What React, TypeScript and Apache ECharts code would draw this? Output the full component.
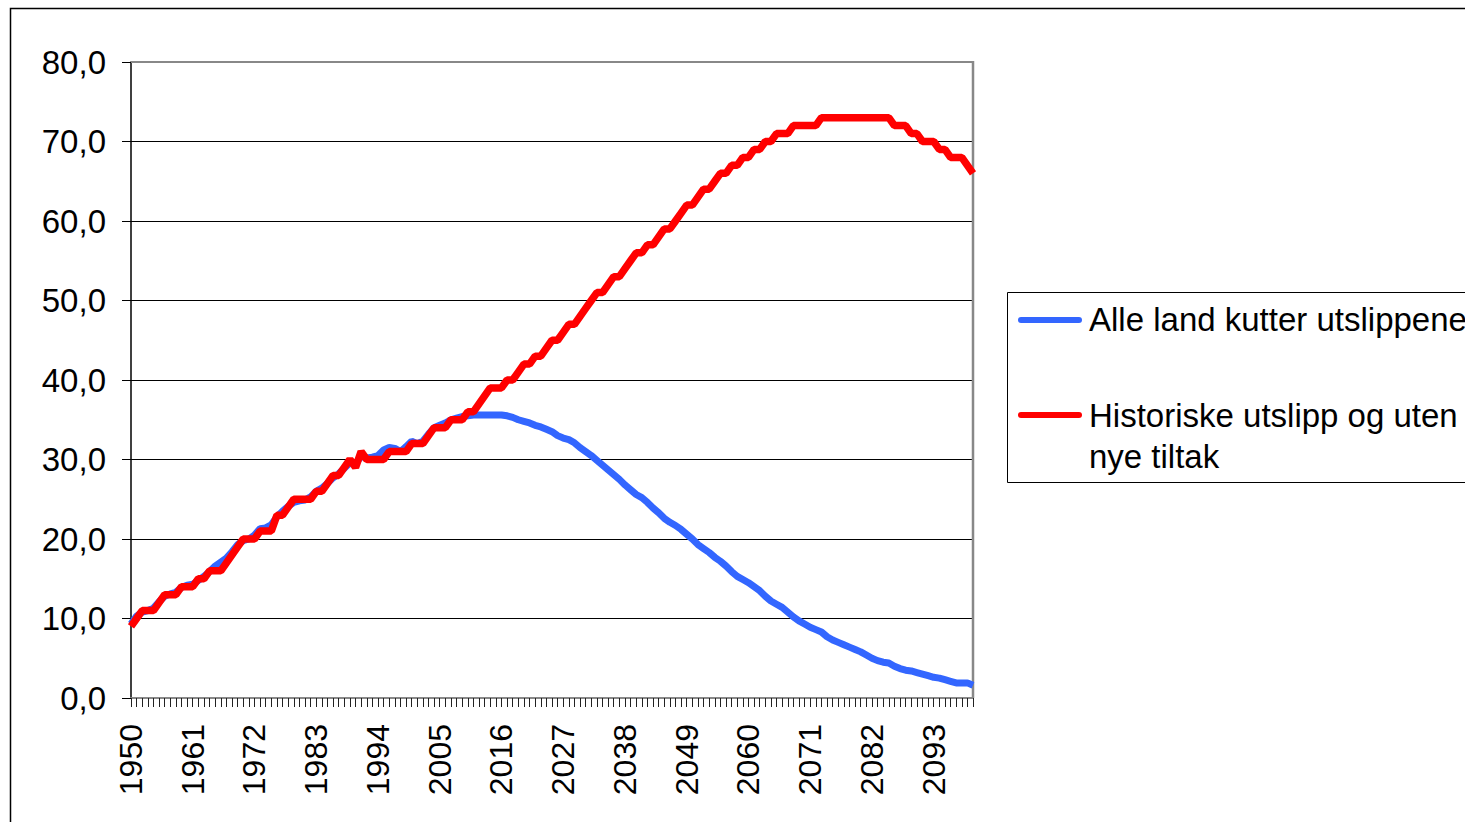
import React, { useEffect, useRef } from "react";
import * as echarts from "echarts";

const startYear = 1950;
const endYear = 2100;
const years: string[] = [];
for (let y = startYear; y <= endYear; y++) years.push(String(y));

const seriesNames = [
  "Alle land kutter utslippene",
  "Historiske utslipp og uten nye tiltak",
];

// Blue: all countries cut emissions
const allCut = [
  9.3, 10.3, 10.8, 11.0, 11.3, 12.1, 12.8, 13.1, 13.3, 13.9,
  14.2, 14.3, 14.8, 15.3, 15.9, 16.6, 17.1, 17.6, 18.4, 19.3,
  19.8, 20.0, 20.5, 21.3, 21.4, 21.8, 22.8, 23.5, 24.1, 24.6,
  24.8, 24.9, 25.3, 26.0, 26.4, 27.0, 27.7, 28.2, 28.9, 29.6,
  29.5, 30.4, 30.2, 30.3, 30.5, 31.2, 31.5, 31.4, 31.0, 31.6,
  32.3, 32.0, 32.3, 33.2, 34.0, 34.3, 34.6, 35.0, 35.2, 35.4,
  35.5, 35.6, 35.6, 35.6, 35.6, 35.6, 35.6, 35.5, 35.3, 35.0,
  34.8, 34.6, 34.3, 34.1, 33.8, 33.5, 33.0, 32.7, 32.5, 32.1,
  31.5, 31.0, 30.5, 29.9, 29.3, 28.7, 28.1, 27.5, 26.8, 26.2,
  25.6, 25.2, 24.6, 23.9, 23.3, 22.6, 22.1, 21.7, 21.2, 20.6,
  20.0, 19.3, 18.8, 18.3, 17.7, 17.2, 16.6, 15.9, 15.3, 14.9,
  14.5, 14.0, 13.5, 12.8, 12.2, 11.8, 11.4, 10.8, 10.2, 9.7,
  9.3, 8.9, 8.6, 8.3, 7.7, 7.3, 7.0, 6.7, 6.4, 6.1,
  5.8, 5.4, 5.0, 4.7, 4.5, 4.4, 4.0, 3.7, 3.5, 3.4,
  3.2, 3.0, 2.8, 2.6, 2.5, 2.3, 2.1, 1.9, 1.9, 1.9,
  1.6,
];

// Red: historical emissions and no new measures
const noAction = [
  9, 10, 11, 11, 11, 12, 13, 13, 13, 14,
  14, 14, 15, 15, 16, 16, 16, 17, 18, 19,
  20, 20, 20, 21, 21, 21, 23, 23, 24, 25,
  25, 25, 25, 26, 26, 27, 28, 28, 29, 30,
  29, 31, 30, 30, 30, 30, 31, 31, 31, 31,
  32, 32, 32, 33, 34, 34, 34, 35, 35, 35,
  36, 36, 37, 38, 39, 39, 39, 40, 40, 41,
  42, 42, 43, 43, 44, 45, 45, 46, 47, 47,
  48, 49, 50, 51, 51, 52, 53, 53, 54, 55,
  56, 56, 57, 57, 58, 59, 59, 60, 61, 62,
  62, 63, 64, 64, 65, 66, 66, 67, 67, 68,
  68, 69, 69, 70, 70, 71, 71, 71, 72, 72,
  72, 72, 72, 73, 73, 73, 73, 73, 73, 73,
  73, 73, 73, 73, 73, 73, 72, 72, 72, 71,
  71, 70, 70, 70, 69, 69, 68, 68, 68, 67,
  66,
];

const BLUE = "#3366ff";
const RED = "#ff0000";
const FONT = "'Liberation Sans', Arial, Helvetica, sans-serif";

export default function App() {
  const ref = useRef<HTMLDivElement>(null);

  useEffect(() => {
    if (!ref.current) return;
    const chart = echarts.init(ref.current, undefined, { renderer: "svg" });
    const option = {
      animation: false,
      backgroundColor: "#ffffff",
      textStyle: { fontFamily: FONT },
      grid: { left: 131, right: 492, top: 62, bottom: 124, show: false },
      xAxis: {
        type: "category",
        data: years,
        boundaryGap: false,
        axisLine: { show: true, lineStyle: { color: "#888888", width: 2 } },
        axisTick: {
          show: true,
          interval: 0,
          length: 9,
          lineStyle: { color: "#222222", width: 1 },
        },
        axisLabel: {
          interval: 10,
          rotate: 90,
          margin: 26,
          fontSize: 32,
          color: "#000000",
          fontFamily: FONT,
        },
        splitLine: { show: false },
      },
      yAxis: {
        type: "value",
        min: 0,
        max: 80,
        interval: 10,
        axisLine: { show: true, lineStyle: { color: "#000000", width: 1.5 } },
        axisTick: { show: true, length: 9, lineStyle: { color: "#000000" } },
        axisLabel: {
          margin: 25,
          fontSize: 33,
          color: "#000000",
          fontFamily: FONT,
          formatter: (v: number) => v.toFixed(1).replace(".", ","),
        },
        splitLine: {
          show: true,
          lineStyle: {
            color: ["#000", "#000", "#000", "#000", "#000", "#000", "#000", "#000", "#888"],
            width: 1,
          },
        },
      },
      series: [
        {
          name: seriesNames[0],
          type: "line",
          data: allCut,
          showSymbol: false,
          lineStyle: { color: BLUE, width: 7 },
          itemStyle: { color: BLUE },
          z: 2,
        },
        {
          name: seriesNames[1],
          type: "line",
          data: noAction,
          showSymbol: false,
          lineStyle: { color: RED, width: 7.5 },
          itemStyle: { color: RED },
          z: 3,
        },
      ],
      graphic: [
        {
          type: "rect",
          z: 0,
          silent: true,
          shape: { x: 10.5, y: 8.5, width: 1600, height: 1000 },
          style: { fill: "none", stroke: "#000000", lineWidth: 1.5 },
        },
        {
          type: "line",
          z: 1,
          shape: { x1: 131, y1: 62, x2: 973, y2: 62 },
          style: { stroke: "#888888", lineWidth: 2 },
        },
        {
          type: "line",
          z: 1,
          shape: { x1: 973, y1: 61, x2: 973, y2: 698 },
          style: { stroke: "#888888", lineWidth: 2.5 },
        },
        {
          type: "rect",
          z: 10,
          shape: { x: 1007.5, y: 292.5, width: 700, height: 190 },
          style: { fill: "#ffffff", stroke: "#000000", lineWidth: 1 },
        },
        {
          type: "line",
          z: 11,
          shape: { x1: 1021, y1: 320, x2: 1079, y2: 320 },
          style: { stroke: BLUE, lineWidth: 6, lineCap: "round" },
        },
        {
          type: "text",
          z: 11,
          x: 1089,
          y: 319,
          style: {
            text: seriesNames[0],
            fontSize: 33,
            fontFamily: FONT,
            fill: "#000000",
            verticalAlign: "middle",
            align: "left",
          },
        },
        {
          type: "line",
          z: 11,
          shape: { x1: 1021, y1: 415, x2: 1079, y2: 415 },
          style: { stroke: RED, lineWidth: 6, lineCap: "round" },
        },
        {
          type: "text",
          z: 11,
          x: 1089,
          y: 415,
          style: {
            text: "Historiske utslipp og uten",
            fontSize: 33,
            fontFamily: FONT,
            fill: "#000000",
            verticalAlign: "middle",
            align: "left",
          },
        },
        {
          type: "text",
          z: 11,
          x: 1089,
          y: 456,
          style: {
            text: "nye tiltak",
            fontSize: 33,
            fontFamily: FONT,
            fill: "#000000",
            verticalAlign: "middle",
            align: "left",
          },
        },
      ],
    };
    chart.setOption(option as any);
    return () => {
      chart.dispose();
    };
  }, []);

  return (
    <div
      ref={ref}
      style={{ position: "fixed", left: 0, top: 0, width: 1465, height: 822, background: "#fff" }}
    />
  );
}
